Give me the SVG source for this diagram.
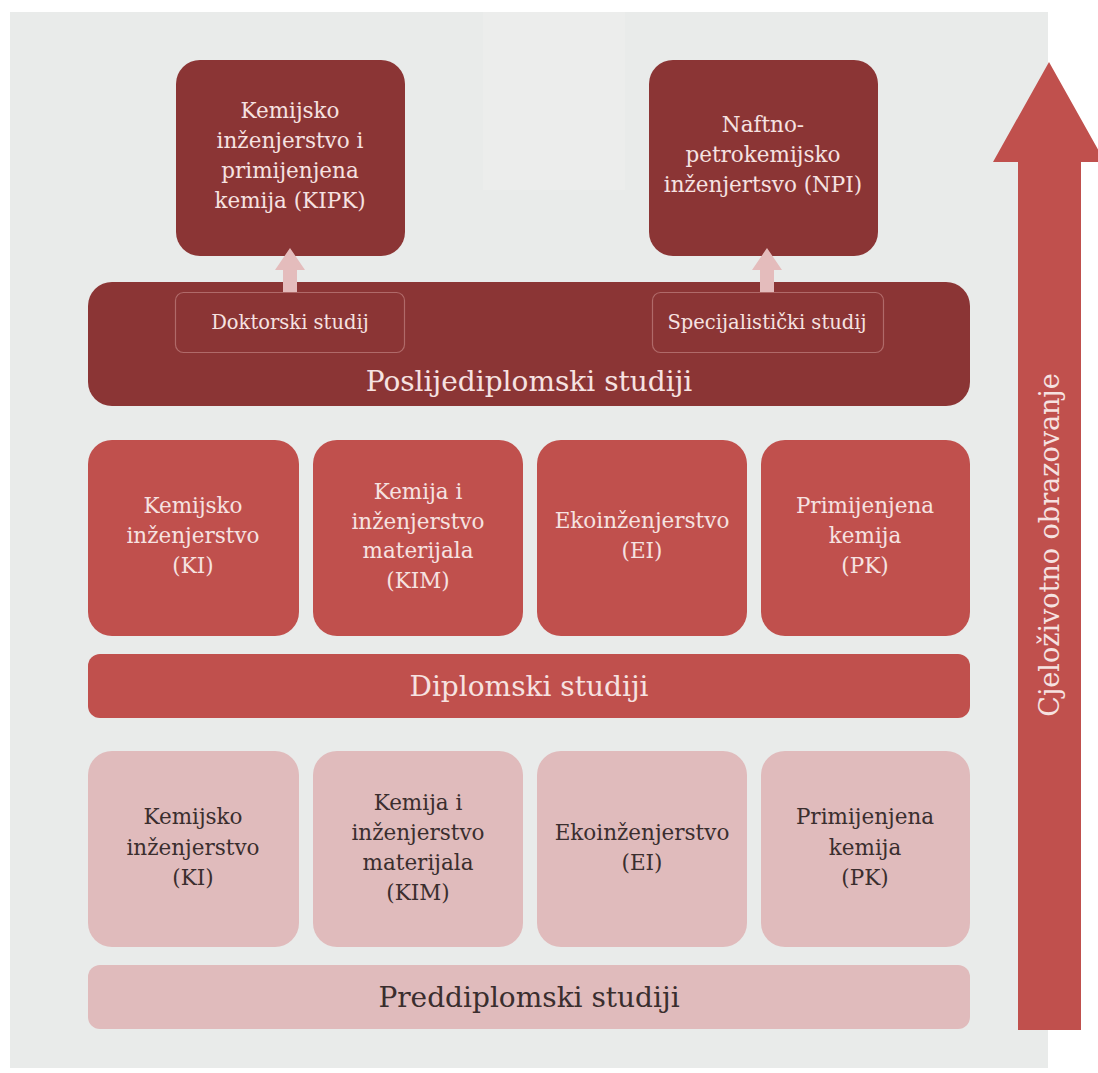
<svg xmlns="http://www.w3.org/2000/svg" width="1098" height="1073" viewBox="0 0 1098 1073">
<style>
text{font-family:"DejaVu Serif","Liberation Serif",serif;text-anchor:middle}
.dk{fill:#8b3535}
.md{fill:#c0504d}
.lt{fill:#e0bbbc}
.wt{fill:#f6e2e1;font-size:21.5px}
.bt{fill:#3a2e2e;font-size:21.5px}
.big{font-size:28px}
.sub{fill:none;stroke:#b06a69;stroke-width:1.2}
.sm{fill:#f6e2e1;font-size:19.5px}
</style>
<rect x="0" y="0" width="1098" height="1073" fill="#ffffff"/>
<rect x="10" y="12" width="1038" height="1056" fill="#e9ebea"/>
<rect x="483" y="12" width="142" height="178" fill="#ecedec"/>

<g id="arrow-lifelong">
<polygon points="1049,62 1105,162 1081,162 1081,1030 1018,1030 1018,162 993,162" fill="#c0504d"/>
<text transform="translate(1059,545) rotate(-90)" fill="#f6e2e1" font-size="27">Cjeloživotno obrazovanje</text>
</g>

<g id="kipk">
<rect x="176" y="60" width="229" height="196" rx="24" class="dk"/>
<text class="wt"><tspan x="290" y="118">Kemijsko</tspan><tspan x="290" y="148">inženjerstvo i</tspan><tspan x="290" y="178">primijenjena</tspan><tspan x="290" y="208">kemija (KIPK)</tspan></text>
</g>
<g id="npi">
<rect x="649" y="60" width="229" height="196" rx="24" class="dk"/>
<text class="wt"><tspan x="763" y="132">Naftno-</tspan><tspan x="763" y="162">petrokemijsko</tspan><tspan x="763" y="192">inženjertsvo (NPI)</tspan></text>
</g>

<g id="poslijediplomski">
<rect x="88" y="282" width="882" height="124" rx="24" class="dk"/>
<text x="529" y="391" class="wt big">Poslijediplomski studiji</text>
</g>
<g id="doktorski">
<rect x="175.5" y="292.5" width="229" height="60" rx="8" class="sub"/>
<text x="290" y="329" class="sm">Doktorski studij</text>
</g>
<g id="specijalisticki">
<rect x="652.5" y="292.5" width="231" height="60" rx="8" class="sub"/>
<text x="767" y="329" class="sm">Specijalistički studij</text>
</g>

<g id="connectors">
<polygon points="290,248 305,270 297,270 297,292 283,292 283,270 275,270" fill="#e4bcbc"/>
<polygon points="767,248 782,270 774,270 774,292 760,292 760,270 752,270" fill="#e4bcbc"/>
</g>

<g id="d-ki">
<rect x="88" y="440" width="211" height="196" rx="24" class="md"/>
<text class="wt"><tspan x="193" y="513">Kemijsko</tspan><tspan x="193" y="543">inženjerstvo</tspan><tspan x="193" y="573">(KI)</tspan></text>
</g>
<g id="d-kim">
<rect x="313" y="440" width="210" height="196" rx="24" class="md"/>
<text class="wt"><tspan x="418" y="499">Kemija i</tspan><tspan x="418" y="529">inženjerstvo</tspan><tspan x="418" y="558">materijala</tspan><tspan x="418" y="588">(KIM)</tspan></text>
</g>
<g id="d-ei">
<rect x="537" y="440" width="210" height="196" rx="24" class="md"/>
<text class="wt"><tspan x="642" y="528">Ekoinženjerstvo</tspan><tspan x="642" y="558">(EI)</tspan></text>
</g>
<g id="d-pk">
<rect x="761" y="440" width="209" height="196" rx="24" class="md"/>
<text class="wt"><tspan x="865" y="513">Primijenjena</tspan><tspan x="865" y="543">kemija</tspan><tspan x="865" y="573">(PK)</tspan></text>
</g>
<g id="diplomski">
<rect x="88" y="654" width="882" height="64" rx="12" class="md"/>
<text x="529" y="696" class="wt big">Diplomski studiji</text>
</g>

<g id="p-ki">
<rect x="88" y="751" width="211" height="196" rx="24" class="lt"/>
<text class="bt"><tspan x="193" y="824">Kemijsko</tspan><tspan x="193" y="855">inženjerstvo</tspan><tspan x="193" y="885">(KI)</tspan></text>
</g>
<g id="p-kim">
<rect x="313" y="751" width="210" height="196" rx="24" class="lt"/>
<text class="bt"><tspan x="418" y="810">Kemija i</tspan><tspan x="418" y="840">inženjerstvo</tspan><tspan x="418" y="870">materijala</tspan><tspan x="418" y="900">(KIM)</tspan></text>
</g>
<g id="p-ei">
<rect x="537" y="751" width="210" height="196" rx="24" class="lt"/>
<text class="bt"><tspan x="642" y="840">Ekoinženjerstvo</tspan><tspan x="642" y="870">(EI)</tspan></text>
</g>
<g id="p-pk">
<rect x="761" y="751" width="209" height="196" rx="24" class="lt"/>
<text class="bt"><tspan x="865" y="824">Primijenjena</tspan><tspan x="865" y="855">kemija</tspan><tspan x="865" y="885">(PK)</tspan></text>
</g>
<g id="preddiplomski">
<rect x="88" y="965" width="882" height="64" rx="12" class="lt"/>
<text x="529" y="1007" class="bt big">Preddiplomski studiji</text>
</g>
</svg>
